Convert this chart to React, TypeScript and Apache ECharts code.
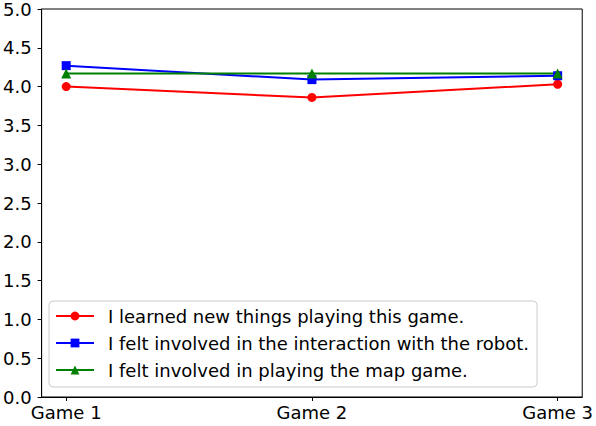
import React, { useEffect, useRef } from "react";
import * as echarts from "echarts";

const categories = ["Game 1", "Game 2", "Game 3"];
const learnedValues = [4.0, 3.86, 4.03];
const involvedRobotValues = [4.27, 4.09, 4.14];
const involvedMapValues = [4.17, 4.17, 4.17];
const seriesNames = [
  "I learned new things playing this game.",
  "I felt involved in the interaction with the robot.",
  "I felt involved in playing the map game.",
];

const FONT = "DejaVu Sans";
const FS = 18;

export default function App() {
  const ref = useRef<HTMLDivElement>(null);
  useEffect(() => {
    if (!ref.current) return;
    const chart = echarts.init(ref.current, undefined, { renderer: "svg" });
    const toData = (vals: number[]) => vals.map((v, i) => [i, v]);
    const idx = categories.map((_, i) => i);
    chart.setOption({
      animation: false,
      backgroundColor: "#ffffff",
      grid: {
        left: 41,
        right: 11,
        top: 8,
        bottom: 29,
        show: true,
        borderColor: "#000",
        borderWidth: 1,
        backgroundColor: "transparent",
      },
      xAxis: {
        type: "value",
        min: -0.1,
        max: categories.length - 1 + 0.1,
        axisLine: { show: true, onZero: false, lineStyle: { color: "#000", width: 1 } },
        splitLine: { show: false },
        axisTick: {
          show: true,
          customValues: idx,
          length: 4,
          inside: false,
          lineStyle: { color: "#000" },
        },
        axisLabel: {
          customValues: idx,
          formatter: (v: number) => categories[Math.round(v)] ?? "",
          color: "#000",
          fontFamily: FONT,
          fontSize: FS,
          margin: 6,
        },
      },
      yAxis: {
        type: "value",
        min: 0,
        max: 5,
        interval: 0.5,
        axisLine: { show: true, onZero: false, lineStyle: { color: "#000", width: 1 } },
        splitLine: { show: false },
        axisTick: { show: true, length: 4, inside: false, lineStyle: { color: "#000" } },
        axisLabel: {
          formatter: (v: number) => v.toFixed(1),
          color: "#000",
          fontFamily: FONT,
          fontSize: FS,
          margin: 10,
        },
      },
      legend: {
        orient: "vertical",
        left: 49,
        top: 301,
        itemWidth: 38,
        itemHeight: 11,
        itemGap: 9,
        padding: [6, 8, 8, 6],
        backgroundColor: "rgba(255,255,255,0.8)",
        borderColor: "#cccccc",
        borderWidth: 1,
        borderRadius: 4,
        textStyle: {
          color: "#000",
          fontFamily: FONT,
          fontSize: FS,
          padding: [0, 0, 0, 9],
        },
      },
      series: [
        {
          name: seriesNames[0],
          type: "line",
          data: toData(learnedValues),
          color: "#ff0000",
          symbol: "circle",
          symbolSize: 9,
          lineStyle: { width: 2 },
        },
        {
          name: seriesNames[1],
          type: "line",
          data: toData(involvedRobotValues),
          color: "#0000ff",
          symbol: "rect",
          symbolSize: 9,
          lineStyle: { width: 2 },
        },
        {
          name: seriesNames[2],
          type: "line",
          data: toData(involvedMapValues),
          color: "#008000",
          symbol: "triangle",
          symbolSize: 10,
          lineStyle: { width: 2 },
        },
      ],
    });
    return () => chart.dispose();
  }, []);
  return <div ref={ref} style={{ width: 596, height: 426, position: "absolute", left: 0, top: 0 }} />;
}
